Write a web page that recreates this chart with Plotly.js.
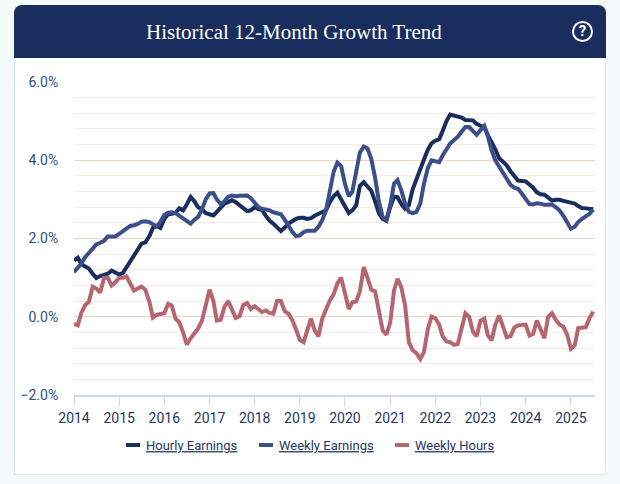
<!DOCTYPE html>
<html><head><meta charset="utf-8">
<script src="https://cdn.plot.ly/plotly-3.0.1.min.js"></script>
<style>
html,body{margin:0;padding:0;width:620px;height:484px;background:#f5fbfb;overflow:hidden}
#card{position:absolute;left:14px;top:5px;width:590px;height:468px;background:#fff;border:1px solid #d5ebee;border-radius:8px 8px 0 0;box-sizing:content-box}
#band{position:absolute;left:14px;top:5px;width:592px;height:53px;background:#192d5f;border-radius:8px 8px 0 0}
#help{position:absolute;left:572px;top:21px;width:17px;height:17px;border:2px solid #fff;border-radius:50%;color:#fff;font:bold 15px/17px Roboto,sans-serif;text-align:center}
#chart{position:absolute;left:0;top:0;width:620px;height:484px}
</style></head><body>
<div id="card"></div><div id="band"></div><div id="help">?</div>
<div id="chart"></div>
<script>
const startYear = 2014;
const hourly = [1.44,1.51,1.34,1.27,1.23,1.1,0.99,1.04,1.08,1.1,1.18,1.14,1.08,1.12,1.27,1.42,1.56,1.72,1.87,1.9,2.05,2.27,2.32,2.27,2.5,2.62,2.63,2.66,2.77,2.72,2.87,3.06,2.95,2.8,2.75,2.65,2.62,2.59,2.68,2.8,2.89,2.93,2.98,2.93,2.85,2.75,2.7,2.72,2.8,2.75,2.73,2.58,2.46,2.38,2.3,2.19,2.28,2.38,2.44,2.5,2.53,2.53,2.5,2.52,2.58,2.63,2.66,2.72,2.93,3.08,3.17,3.0,2.8,2.65,2.72,2.85,3.35,3.44,3.33,3.22,2.95,2.65,2.5,2.46,2.8,3.07,3.06,2.88,2.76,2.85,3.25,3.53,3.78,4.02,4.27,4.43,4.5,4.54,4.75,5.0,5.17,5.15,5.12,5.09,5.03,5.02,5.02,4.93,4.87,4.84,4.65,4.47,4.28,4.05,3.96,3.87,3.72,3.58,3.48,3.47,3.46,3.38,3.3,3.18,3.13,3.12,3.05,2.97,2.99,2.99,2.96,2.93,2.91,2.89,2.83,2.78,2.77,2.75,2.75];
const weekly = [1.14,1.25,1.36,1.52,1.62,1.72,1.85,1.89,1.94,2.05,2.05,2.05,2.12,2.18,2.26,2.32,2.34,2.37,2.43,2.44,2.42,2.36,2.31,2.43,2.6,2.66,2.67,2.65,2.58,2.52,2.43,2.38,2.48,2.55,2.75,3.0,3.15,3.16,3.0,2.88,2.95,3.07,3.1,3.08,3.09,3.1,3.1,3.03,2.93,2.8,2.76,2.75,2.72,2.67,2.65,2.62,2.48,2.32,2.17,2.06,2.08,2.16,2.2,2.2,2.2,2.3,2.47,2.72,3.25,3.7,3.94,3.85,3.4,3.08,3.2,3.65,4.2,4.35,4.3,4.03,3.55,2.95,2.55,2.46,2.85,3.4,3.49,3.23,2.9,2.68,2.65,2.68,2.89,3.4,3.8,4.0,3.97,3.95,4.12,4.3,4.43,4.52,4.6,4.73,4.85,4.85,4.75,4.65,4.77,4.88,4.62,4.25,4.0,3.85,3.7,3.52,3.37,3.3,3.27,3.15,3.03,2.88,2.87,2.9,2.89,2.86,2.86,2.87,2.8,2.72,2.58,2.4,2.25,2.3,2.42,2.5,2.55,2.63,2.74];
const hours = [-0.18,-0.22,0.1,0.3,0.38,0.77,0.72,0.62,1.0,1.0,0.8,0.88,1.0,1.0,1.03,0.85,0.67,0.72,0.77,0.69,0.4,-0.02,0.05,0.07,0.09,0.33,0.29,-0.05,-0.14,-0.4,-0.71,-0.55,-0.42,-0.3,-0.1,0.3,0.69,0.4,-0.1,-0.08,0.25,0.4,0.2,-0.03,0.02,0.3,0.35,0.2,0.27,0.18,0.12,0.16,0.1,0.08,0.4,0.4,0.14,0.08,-0.08,-0.32,-0.59,-0.65,-0.4,-0.05,-0.35,-0.5,-0.05,0.2,0.42,0.57,0.85,1.0,0.6,0.2,0.37,0.39,0.65,1.27,1.0,0.69,0.65,0.1,-0.35,-0.46,-0.15,0.67,0.97,0.75,0.3,-0.65,-0.85,-0.93,-1.08,-0.9,-0.32,0.0,-0.04,-0.2,-0.5,-0.63,-0.65,-0.72,-0.7,-0.3,0.09,0.0,-0.38,-0.5,-0.1,-0.05,-0.47,-0.6,-0.2,0.03,-0.25,-0.52,-0.5,-0.28,-0.22,-0.22,-0.2,-0.48,-0.44,-0.1,-0.33,-0.55,0.0,0.09,-0.08,-0.2,-0.25,-0.45,-0.82,-0.73,-0.29,-0.27,-0.27,-0.03,0.13];
const seriesNames = ["Hourly Earnings","Weekly Earnings","Weekly Hours"];
const seriesColors = ["#192d5f","#3b4f8a","#b5666f"];
const dates = hourly.map((_,i)=>{const y=startYear+Math.floor(i/12),m=i%12+1;return y+"-"+String(m).padStart(2,"0")+"-01";});
const under = s=>'<span style="text-decoration:underline">'+s+'</span>';
const traces = [hourly,weekly,hours].map((v,i)=>({
  x:dates,y:v,type:"scatter",mode:"lines",name:under(seriesNames[i]),
  line:{color:seriesColors[i],width:4,shape:"linear"},hoverinfo:"x+y"
}));
const legendOrigins = [6,139,275];
Plotly.newPlot("chart",traces,{
  width:620,height:484,
  paper_bgcolor:"rgba(0,0,0,0)",plot_bgcolor:"rgba(0,0,0,0)",
  margin:{l:74,r:25,t:82,b:89},
  title:{text:"Historical 12-Month Growth Trend",font:{family:"Liberation Serif, serif",size:21,color:"#ffffff"},x:0.474,xanchor:"center",y:0.934,yanchor:"middle"},
  xaxis:{type:"date",range:["2014-01-01","2025-07-15"],dtick:"M12",tick0:"2014-01-01",tickformat:"%Y",
    showgrid:false,zeroline:false,showline:true,linecolor:"#cfd8ea",linewidth:1.5,ticks:"outside",ticklen:9,tickcolor:"#cfd8ea",tickwidth:1,
    tickfont:{family:"Roboto, sans-serif",size:14,color:"#24395f"}},
  yaxis:{range:[-2,6],dtick:2,tick0:-2,tickformat:".1f",ticksuffix:"%",
    showgrid:true,gridcolor:"#f1d3c6",gridwidth:1,zeroline:false,showline:false,
    ticks:"outside",ticklen:12,tickcolor:"rgba(0,0,0,0)",
    minor:{dtick:0.4,tick0:-2,showgrid:true,gridcolor:"#f8ebe4",gridwidth:1},
    tickfont:{family:"Roboto, sans-serif",size:14,color:"#2f5084"}},
  legend:{orientation:"h",x:0.4555,xanchor:"center",y:-0.16,yanchor:"middle",
    font:{family:"Roboto, sans-serif",size:13,color:"#24395f"},itemwidth:30,tracegroupgap:0},
  showlegend:true
},{displayModeBar:false,responsive:false}).then(gd=>{
  const lg=gd.querySelector(".legend");
  const t=lg.getAttribute("transform");
  const yy=/,\s*([-\d.]+)\)/.exec(t)[1];
  lg.setAttribute("transform","translate(100,"+yy+")");
  const items=gd.querySelectorAll(".legend .traces");
  items.forEach((el,i)=>{
    const ty=/,\s*([-\d.]+)\)/.exec(el.getAttribute("transform"))[1];
    el.setAttribute("transform","translate("+legendOrigins[i]+","+ty+")");
    el.querySelectorAll(".js-line").forEach(p=>{p.setAttribute("d","M20,0h14");p.style.strokeWidth="4px";p.style.strokeLinecap="butt";});
  });
  const bg=gd.querySelector(".legend .bg"); if(bg) bg.setAttribute("width","420");
  const cp=document.querySelectorAll("clipPath[id^='legend'] rect"); cp.forEach(r=>r.setAttribute("width","420"));
});
</script>
</body></html>
